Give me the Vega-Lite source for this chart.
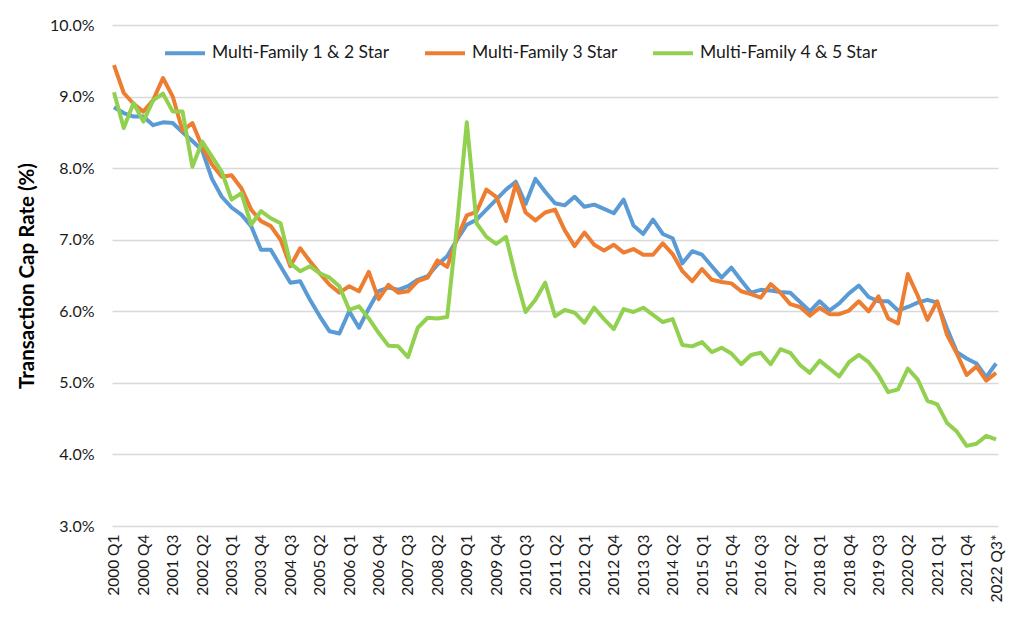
{
  "$schema": "https://vega.github.io/schema/vega-lite/v6.json",
  "background": "white",
  "autosize": {"type": "none"},
  "padding": {"left": 112, "top": 25, "right": 26, "bottom": 106},
  "width": 886,
  "height": 501,
  "data": {
    "values": [
      {"q":"2000 Q1","s":"Multi-Family 1 & 2 Star","v":8.85},{"q":"2000 Q2","s":"Multi-Family 1 & 2 Star","v":8.77},{"q":"2000 Q3","s":"Multi-Family 1 & 2 Star","v":8.72},{"q":"2000 Q4","s":"Multi-Family 1 & 2 Star","v":8.72},
      {"q":"2001 Q1","s":"Multi-Family 1 & 2 Star","v":8.6},{"q":"2001 Q2","s":"Multi-Family 1 & 2 Star","v":8.64},{"q":"2001 Q3","s":"Multi-Family 1 & 2 Star","v":8.63},{"q":"2001 Q4","s":"Multi-Family 1 & 2 Star","v":8.5},
      {"q":"2002 Q1","s":"Multi-Family 1 & 2 Star","v":8.38},{"q":"2002 Q2","s":"Multi-Family 1 & 2 Star","v":8.25},{"q":"2002 Q3","s":"Multi-Family 1 & 2 Star","v":7.85},{"q":"2002 Q4","s":"Multi-Family 1 & 2 Star","v":7.6},
      {"q":"2003 Q1","s":"Multi-Family 1 & 2 Star","v":7.45},{"q":"2003 Q2","s":"Multi-Family 1 & 2 Star","v":7.35},{"q":"2003 Q3","s":"Multi-Family 1 & 2 Star","v":7.19},{"q":"2003 Q4","s":"Multi-Family 1 & 2 Star","v":6.86},
      {"q":"2004 Q1","s":"Multi-Family 1 & 2 Star","v":6.86},{"q":"2004 Q2","s":"Multi-Family 1 & 2 Star","v":6.63},{"q":"2004 Q3","s":"Multi-Family 1 & 2 Star","v":6.4},{"q":"2004 Q4","s":"Multi-Family 1 & 2 Star","v":6.42},
      {"q":"2005 Q1","s":"Multi-Family 1 & 2 Star","v":6.16},{"q":"2005 Q2","s":"Multi-Family 1 & 2 Star","v":5.93},{"q":"2005 Q3","s":"Multi-Family 1 & 2 Star","v":5.72},{"q":"2005 Q4","s":"Multi-Family 1 & 2 Star","v":5.69},
      {"q":"2006 Q1","s":"Multi-Family 1 & 2 Star","v":6.0},{"q":"2006 Q2","s":"Multi-Family 1 & 2 Star","v":5.77},{"q":"2006 Q3","s":"Multi-Family 1 & 2 Star","v":6.04},{"q":"2006 Q4","s":"Multi-Family 1 & 2 Star","v":6.28},
      {"q":"2007 Q1","s":"Multi-Family 1 & 2 Star","v":6.33},{"q":"2007 Q2","s":"Multi-Family 1 & 2 Star","v":6.3},{"q":"2007 Q3","s":"Multi-Family 1 & 2 Star","v":6.35},{"q":"2007 Q4","s":"Multi-Family 1 & 2 Star","v":6.44},
      {"q":"2008 Q1","s":"Multi-Family 1 & 2 Star","v":6.49},{"q":"2008 Q2","s":"Multi-Family 1 & 2 Star","v":6.65},{"q":"2008 Q3","s":"Multi-Family 1 & 2 Star","v":6.77},{"q":"2008 Q4","s":"Multi-Family 1 & 2 Star","v":7.0},
      {"q":"2009 Q1","s":"Multi-Family 1 & 2 Star","v":7.21},{"q":"2009 Q2","s":"Multi-Family 1 & 2 Star","v":7.28},{"q":"2009 Q3","s":"Multi-Family 1 & 2 Star","v":7.42},{"q":"2009 Q4","s":"Multi-Family 1 & 2 Star","v":7.56},
      {"q":"2010 Q1","s":"Multi-Family 1 & 2 Star","v":7.7},{"q":"2010 Q2","s":"Multi-Family 1 & 2 Star","v":7.81},{"q":"2010 Q3","s":"Multi-Family 1 & 2 Star","v":7.5},{"q":"2010 Q4","s":"Multi-Family 1 & 2 Star","v":7.85},
      {"q":"2011 Q1","s":"Multi-Family 1 & 2 Star","v":7.67},{"q":"2011 Q2","s":"Multi-Family 1 & 2 Star","v":7.51},{"q":"2011 Q3","s":"Multi-Family 1 & 2 Star","v":7.48},{"q":"2011 Q4","s":"Multi-Family 1 & 2 Star","v":7.6},
      {"q":"2012 Q1","s":"Multi-Family 1 & 2 Star","v":7.46},{"q":"2012 Q2","s":"Multi-Family 1 & 2 Star","v":7.49},{"q":"2012 Q3","s":"Multi-Family 1 & 2 Star","v":7.43},{"q":"2012 Q4","s":"Multi-Family 1 & 2 Star","v":7.37},
      {"q":"2013 Q1","s":"Multi-Family 1 & 2 Star","v":7.56},{"q":"2013 Q2","s":"Multi-Family 1 & 2 Star","v":7.2},{"q":"2013 Q3","s":"Multi-Family 1 & 2 Star","v":7.08},{"q":"2013 Q4","s":"Multi-Family 1 & 2 Star","v":7.28},
      {"q":"2014 Q1","s":"Multi-Family 1 & 2 Star","v":7.08},{"q":"2014 Q2","s":"Multi-Family 1 & 2 Star","v":7.02},{"q":"2014 Q3","s":"Multi-Family 1 & 2 Star","v":6.67},{"q":"2014 Q4","s":"Multi-Family 1 & 2 Star","v":6.84},
      {"q":"2015 Q1","s":"Multi-Family 1 & 2 Star","v":6.79},{"q":"2015 Q2","s":"Multi-Family 1 & 2 Star","v":6.63},{"q":"2015 Q3","s":"Multi-Family 1 & 2 Star","v":6.47},{"q":"2015 Q4","s":"Multi-Family 1 & 2 Star","v":6.61},
      {"q":"2016 Q1","s":"Multi-Family 1 & 2 Star","v":6.43},{"q":"2016 Q2","s":"Multi-Family 1 & 2 Star","v":6.26},{"q":"2016 Q3","s":"Multi-Family 1 & 2 Star","v":6.3},{"q":"2016 Q4","s":"Multi-Family 1 & 2 Star","v":6.29},
      {"q":"2017 Q1","s":"Multi-Family 1 & 2 Star","v":6.27},{"q":"2017 Q2","s":"Multi-Family 1 & 2 Star","v":6.26},{"q":"2017 Q3","s":"Multi-Family 1 & 2 Star","v":6.13},{"q":"2017 Q4","s":"Multi-Family 1 & 2 Star","v":6.0},
      {"q":"2018 Q1","s":"Multi-Family 1 & 2 Star","v":6.14},{"q":"2018 Q2","s":"Multi-Family 1 & 2 Star","v":6.01},{"q":"2018 Q3","s":"Multi-Family 1 & 2 Star","v":6.11},{"q":"2018 Q4","s":"Multi-Family 1 & 2 Star","v":6.25},
      {"q":"2019 Q1","s":"Multi-Family 1 & 2 Star","v":6.36},{"q":"2019 Q2","s":"Multi-Family 1 & 2 Star","v":6.2},{"q":"2019 Q3","s":"Multi-Family 1 & 2 Star","v":6.14},{"q":"2019 Q4","s":"Multi-Family 1 & 2 Star","v":6.14},
      {"q":"2020 Q1","s":"Multi-Family 1 & 2 Star","v":6.01},{"q":"2020 Q2","s":"Multi-Family 1 & 2 Star","v":6.06},{"q":"2020 Q3","s":"Multi-Family 1 & 2 Star","v":6.12},{"q":"2020 Q4","s":"Multi-Family 1 & 2 Star","v":6.16},
      {"q":"2021 Q1","s":"Multi-Family 1 & 2 Star","v":6.12},{"q":"2021 Q2","s":"Multi-Family 1 & 2 Star","v":5.76},{"q":"2021 Q3","s":"Multi-Family 1 & 2 Star","v":5.43},{"q":"2021 Q4","s":"Multi-Family 1 & 2 Star","v":5.34},
      {"q":"2022 Q1","s":"Multi-Family 1 & 2 Star","v":5.27},{"q":"2022 Q2","s":"Multi-Family 1 & 2 Star","v":5.08},{"q":"2022 Q3*","s":"Multi-Family 1 & 2 Star","v":5.27},

      {"q":"2000 Q1","s":"Multi-Family 3 Star","v":9.44},{"q":"2000 Q2","s":"Multi-Family 3 Star","v":9.05},{"q":"2000 Q3","s":"Multi-Family 3 Star","v":8.9},{"q":"2000 Q4","s":"Multi-Family 3 Star","v":8.79},
      {"q":"2001 Q1","s":"Multi-Family 3 Star","v":8.95},{"q":"2001 Q2","s":"Multi-Family 3 Star","v":9.26},{"q":"2001 Q3","s":"Multi-Family 3 Star","v":9.0},{"q":"2001 Q4","s":"Multi-Family 3 Star","v":8.52},
      {"q":"2002 Q1","s":"Multi-Family 3 Star","v":8.63},{"q":"2002 Q2","s":"Multi-Family 3 Star","v":8.3},{"q":"2002 Q3","s":"Multi-Family 3 Star","v":8.05},{"q":"2002 Q4","s":"Multi-Family 3 Star","v":7.88},
      {"q":"2003 Q1","s":"Multi-Family 3 Star","v":7.9},{"q":"2003 Q2","s":"Multi-Family 3 Star","v":7.72},{"q":"2003 Q3","s":"Multi-Family 3 Star","v":7.42},{"q":"2003 Q4","s":"Multi-Family 3 Star","v":7.26},
      {"q":"2004 Q1","s":"Multi-Family 3 Star","v":7.19},{"q":"2004 Q2","s":"Multi-Family 3 Star","v":7.0},{"q":"2004 Q3","s":"Multi-Family 3 Star","v":6.63},{"q":"2004 Q4","s":"Multi-Family 3 Star","v":6.88},
      {"q":"2005 Q1","s":"Multi-Family 3 Star","v":6.7},{"q":"2005 Q2","s":"Multi-Family 3 Star","v":6.53},{"q":"2005 Q3","s":"Multi-Family 3 Star","v":6.37},{"q":"2005 Q4","s":"Multi-Family 3 Star","v":6.26},
      {"q":"2006 Q1","s":"Multi-Family 3 Star","v":6.35},{"q":"2006 Q2","s":"Multi-Family 3 Star","v":6.28},{"q":"2006 Q3","s":"Multi-Family 3 Star","v":6.55},{"q":"2006 Q4","s":"Multi-Family 3 Star","v":6.17},
      {"q":"2007 Q1","s":"Multi-Family 3 Star","v":6.37},{"q":"2007 Q2","s":"Multi-Family 3 Star","v":6.26},{"q":"2007 Q3","s":"Multi-Family 3 Star","v":6.28},{"q":"2007 Q4","s":"Multi-Family 3 Star","v":6.42},
      {"q":"2008 Q1","s":"Multi-Family 3 Star","v":6.47},{"q":"2008 Q2","s":"Multi-Family 3 Star","v":6.71},{"q":"2008 Q3","s":"Multi-Family 3 Star","v":6.62},{"q":"2008 Q4","s":"Multi-Family 3 Star","v":7.02},
      {"q":"2009 Q1","s":"Multi-Family 3 Star","v":7.34},{"q":"2009 Q2","s":"Multi-Family 3 Star","v":7.39},{"q":"2009 Q3","s":"Multi-Family 3 Star","v":7.7},{"q":"2009 Q4","s":"Multi-Family 3 Star","v":7.6},
      {"q":"2010 Q1","s":"Multi-Family 3 Star","v":7.26},{"q":"2010 Q2","s":"Multi-Family 3 Star","v":7.78},{"q":"2010 Q3","s":"Multi-Family 3 Star","v":7.38},{"q":"2010 Q4","s":"Multi-Family 3 Star","v":7.27},
      {"q":"2011 Q1","s":"Multi-Family 3 Star","v":7.38},{"q":"2011 Q2","s":"Multi-Family 3 Star","v":7.42},{"q":"2011 Q3","s":"Multi-Family 3 Star","v":7.13},{"q":"2011 Q4","s":"Multi-Family 3 Star","v":6.91},
      {"q":"2012 Q1","s":"Multi-Family 3 Star","v":7.1},{"q":"2012 Q2","s":"Multi-Family 3 Star","v":6.93},{"q":"2012 Q3","s":"Multi-Family 3 Star","v":6.85},{"q":"2012 Q4","s":"Multi-Family 3 Star","v":6.93},
      {"q":"2013 Q1","s":"Multi-Family 3 Star","v":6.82},{"q":"2013 Q2","s":"Multi-Family 3 Star","v":6.87},{"q":"2013 Q3","s":"Multi-Family 3 Star","v":6.79},{"q":"2013 Q4","s":"Multi-Family 3 Star","v":6.79},
      {"q":"2014 Q1","s":"Multi-Family 3 Star","v":6.95},{"q":"2014 Q2","s":"Multi-Family 3 Star","v":6.8},{"q":"2014 Q3","s":"Multi-Family 3 Star","v":6.56},{"q":"2014 Q4","s":"Multi-Family 3 Star","v":6.42},
      {"q":"2015 Q1","s":"Multi-Family 3 Star","v":6.59},{"q":"2015 Q2","s":"Multi-Family 3 Star","v":6.44},{"q":"2015 Q3","s":"Multi-Family 3 Star","v":6.41},{"q":"2015 Q4","s":"Multi-Family 3 Star","v":6.39},
      {"q":"2016 Q1","s":"Multi-Family 3 Star","v":6.28},{"q":"2016 Q2","s":"Multi-Family 3 Star","v":6.24},{"q":"2016 Q3","s":"Multi-Family 3 Star","v":6.19},{"q":"2016 Q4","s":"Multi-Family 3 Star","v":6.38},
      {"q":"2017 Q1","s":"Multi-Family 3 Star","v":6.26},{"q":"2017 Q2","s":"Multi-Family 3 Star","v":6.1},{"q":"2017 Q3","s":"Multi-Family 3 Star","v":6.06},{"q":"2017 Q4","s":"Multi-Family 3 Star","v":5.94},
      {"q":"2018 Q1","s":"Multi-Family 3 Star","v":6.05},{"q":"2018 Q2","s":"Multi-Family 3 Star","v":5.96},{"q":"2018 Q3","s":"Multi-Family 3 Star","v":5.96},{"q":"2018 Q4","s":"Multi-Family 3 Star","v":6.01},
      {"q":"2019 Q1","s":"Multi-Family 3 Star","v":6.14},{"q":"2019 Q2","s":"Multi-Family 3 Star","v":6.0},{"q":"2019 Q3","s":"Multi-Family 3 Star","v":6.21},{"q":"2019 Q4","s":"Multi-Family 3 Star","v":5.9},
      {"q":"2020 Q1","s":"Multi-Family 3 Star","v":5.83},{"q":"2020 Q2","s":"Multi-Family 3 Star","v":6.52},{"q":"2020 Q3","s":"Multi-Family 3 Star","v":6.22},{"q":"2020 Q4","s":"Multi-Family 3 Star","v":5.88},
      {"q":"2021 Q1","s":"Multi-Family 3 Star","v":6.14},{"q":"2021 Q2","s":"Multi-Family 3 Star","v":5.67},{"q":"2021 Q3","s":"Multi-Family 3 Star","v":5.41},{"q":"2021 Q4","s":"Multi-Family 3 Star","v":5.11},
      {"q":"2022 Q1","s":"Multi-Family 3 Star","v":5.23},{"q":"2022 Q2","s":"Multi-Family 3 Star","v":5.03},{"q":"2022 Q3*","s":"Multi-Family 3 Star","v":5.14},

      {"q":"2000 Q1","s":"Multi-Family 4 & 5 Star","v":9.06},{"q":"2000 Q2","s":"Multi-Family 4 & 5 Star","v":8.56},{"q":"2000 Q3","s":"Multi-Family 4 & 5 Star","v":8.91},{"q":"2000 Q4","s":"Multi-Family 4 & 5 Star","v":8.65},
      {"q":"2001 Q1","s":"Multi-Family 4 & 5 Star","v":8.95},{"q":"2001 Q2","s":"Multi-Family 4 & 5 Star","v":9.04},{"q":"2001 Q3","s":"Multi-Family 4 & 5 Star","v":8.79},{"q":"2001 Q4","s":"Multi-Family 4 & 5 Star","v":8.79},
      {"q":"2002 Q1","s":"Multi-Family 4 & 5 Star","v":8.02},{"q":"2002 Q2","s":"Multi-Family 4 & 5 Star","v":8.37},{"q":"2002 Q3","s":"Multi-Family 4 & 5 Star","v":8.16},{"q":"2002 Q4","s":"Multi-Family 4 & 5 Star","v":7.95},
      {"q":"2003 Q1","s":"Multi-Family 4 & 5 Star","v":7.56},{"q":"2003 Q2","s":"Multi-Family 4 & 5 Star","v":7.65},{"q":"2003 Q3","s":"Multi-Family 4 & 5 Star","v":7.21},{"q":"2003 Q4","s":"Multi-Family 4 & 5 Star","v":7.4},
      {"q":"2004 Q1","s":"Multi-Family 4 & 5 Star","v":7.3},{"q":"2004 Q2","s":"Multi-Family 4 & 5 Star","v":7.23},{"q":"2004 Q3","s":"Multi-Family 4 & 5 Star","v":6.67},{"q":"2004 Q4","s":"Multi-Family 4 & 5 Star","v":6.56},
      {"q":"2005 Q1","s":"Multi-Family 4 & 5 Star","v":6.63},{"q":"2005 Q2","s":"Multi-Family 4 & 5 Star","v":6.53},{"q":"2005 Q3","s":"Multi-Family 4 & 5 Star","v":6.47},{"q":"2005 Q4","s":"Multi-Family 4 & 5 Star","v":6.35},
      {"q":"2006 Q1","s":"Multi-Family 4 & 5 Star","v":6.02},{"q":"2006 Q2","s":"Multi-Family 4 & 5 Star","v":6.07},{"q":"2006 Q3","s":"Multi-Family 4 & 5 Star","v":5.9},{"q":"2006 Q4","s":"Multi-Family 4 & 5 Star","v":5.7},
      {"q":"2007 Q1","s":"Multi-Family 4 & 5 Star","v":5.52},{"q":"2007 Q2","s":"Multi-Family 4 & 5 Star","v":5.51},{"q":"2007 Q3","s":"Multi-Family 4 & 5 Star","v":5.36},{"q":"2007 Q4","s":"Multi-Family 4 & 5 Star","v":5.77},
      {"q":"2008 Q1","s":"Multi-Family 4 & 5 Star","v":5.91},{"q":"2008 Q2","s":"Multi-Family 4 & 5 Star","v":5.9},{"q":"2008 Q3","s":"Multi-Family 4 & 5 Star","v":5.92},{"q":"2008 Q4","s":"Multi-Family 4 & 5 Star","v":7.2},
      {"q":"2009 Q1","s":"Multi-Family 4 & 5 Star","v":8.64},{"q":"2009 Q2","s":"Multi-Family 4 & 5 Star","v":7.23},{"q":"2009 Q3","s":"Multi-Family 4 & 5 Star","v":7.04},{"q":"2009 Q4","s":"Multi-Family 4 & 5 Star","v":6.94},
      {"q":"2010 Q1","s":"Multi-Family 4 & 5 Star","v":7.04},{"q":"2010 Q2","s":"Multi-Family 4 & 5 Star","v":6.48},{"q":"2010 Q3","s":"Multi-Family 4 & 5 Star","v":5.99},{"q":"2010 Q4","s":"Multi-Family 4 & 5 Star","v":6.16},
      {"q":"2011 Q1","s":"Multi-Family 4 & 5 Star","v":6.4},{"q":"2011 Q2","s":"Multi-Family 4 & 5 Star","v":5.93},{"q":"2011 Q3","s":"Multi-Family 4 & 5 Star","v":6.02},{"q":"2011 Q4","s":"Multi-Family 4 & 5 Star","v":5.98},
      {"q":"2012 Q1","s":"Multi-Family 4 & 5 Star","v":5.84},{"q":"2012 Q2","s":"Multi-Family 4 & 5 Star","v":6.05},{"q":"2012 Q3","s":"Multi-Family 4 & 5 Star","v":5.89},{"q":"2012 Q4","s":"Multi-Family 4 & 5 Star","v":5.75},
      {"q":"2013 Q1","s":"Multi-Family 4 & 5 Star","v":6.03},{"q":"2013 Q2","s":"Multi-Family 4 & 5 Star","v":5.99},{"q":"2013 Q3","s":"Multi-Family 4 & 5 Star","v":6.05},{"q":"2013 Q4","s":"Multi-Family 4 & 5 Star","v":5.95},
      {"q":"2014 Q1","s":"Multi-Family 4 & 5 Star","v":5.85},{"q":"2014 Q2","s":"Multi-Family 4 & 5 Star","v":5.89},{"q":"2014 Q3","s":"Multi-Family 4 & 5 Star","v":5.53},{"q":"2014 Q4","s":"Multi-Family 4 & 5 Star","v":5.51},
      {"q":"2015 Q1","s":"Multi-Family 4 & 5 Star","v":5.57},{"q":"2015 Q2","s":"Multi-Family 4 & 5 Star","v":5.43},{"q":"2015 Q3","s":"Multi-Family 4 & 5 Star","v":5.49},{"q":"2015 Q4","s":"Multi-Family 4 & 5 Star","v":5.41},
      {"q":"2016 Q1","s":"Multi-Family 4 & 5 Star","v":5.26},{"q":"2016 Q2","s":"Multi-Family 4 & 5 Star","v":5.39},{"q":"2016 Q3","s":"Multi-Family 4 & 5 Star","v":5.42},{"q":"2016 Q4","s":"Multi-Family 4 & 5 Star","v":5.26},
      {"q":"2017 Q1","s":"Multi-Family 4 & 5 Star","v":5.47},{"q":"2017 Q2","s":"Multi-Family 4 & 5 Star","v":5.42},{"q":"2017 Q3","s":"Multi-Family 4 & 5 Star","v":5.25},{"q":"2017 Q4","s":"Multi-Family 4 & 5 Star","v":5.14},
      {"q":"2018 Q1","s":"Multi-Family 4 & 5 Star","v":5.31},{"q":"2018 Q2","s":"Multi-Family 4 & 5 Star","v":5.2},{"q":"2018 Q3","s":"Multi-Family 4 & 5 Star","v":5.09},{"q":"2018 Q4","s":"Multi-Family 4 & 5 Star","v":5.29},
      {"q":"2019 Q1","s":"Multi-Family 4 & 5 Star","v":5.39},{"q":"2019 Q2","s":"Multi-Family 4 & 5 Star","v":5.29},{"q":"2019 Q3","s":"Multi-Family 4 & 5 Star","v":5.11},{"q":"2019 Q4","s":"Multi-Family 4 & 5 Star","v":4.87},
      {"q":"2020 Q1","s":"Multi-Family 4 & 5 Star","v":4.91},{"q":"2020 Q2","s":"Multi-Family 4 & 5 Star","v":5.2},{"q":"2020 Q3","s":"Multi-Family 4 & 5 Star","v":5.05},{"q":"2020 Q4","s":"Multi-Family 4 & 5 Star","v":4.75},
      {"q":"2021 Q1","s":"Multi-Family 4 & 5 Star","v":4.7},{"q":"2021 Q2","s":"Multi-Family 4 & 5 Star","v":4.44},{"q":"2021 Q3","s":"Multi-Family 4 & 5 Star","v":4.32},{"q":"2021 Q4","s":"Multi-Family 4 & 5 Star","v":4.12},
      {"q":"2022 Q1","s":"Multi-Family 4 & 5 Star","v":4.15},{"q":"2022 Q2","s":"Multi-Family 4 & 5 Star","v":4.26},{"q":"2022 Q3*","s":"Multi-Family 4 & 5 Star","v":4.21}
    ]
  },
  "mark": {"type": "line", "strokeWidth": 4, "strokeJoin": "round"},
  "encoding": {
    "x": {
      "field": "q",
      "type": "ordinal",
      "sort": null,
      "scale": {"type": "point", "padding": 0.2},
      "axis": {
        "title": null,
        "values": ["2000 Q1","2000 Q4","2001 Q3","2002 Q2","2003 Q1","2003 Q4","2004 Q3","2005 Q2","2006 Q1","2006 Q4","2007 Q3","2008 Q2","2009 Q1","2009 Q4","2010 Q3","2011 Q2","2012 Q1","2012 Q4","2013 Q3","2014 Q2","2015 Q1","2015 Q4","2016 Q3","2017 Q2","2018 Q1","2018 Q4","2019 Q3","2020 Q2","2021 Q1","2021 Q4","2022 Q3*"],
        "labelAngle": -90,
        "labelAlign": "right",
        "labelBaseline": "middle",
        "labelPadding": 8,
        "labelFontSize": 15.5,
        "labelColor": "#1a1a1a",
        "ticks": false,
        "domain": false,
        "grid": false,
        "labelOverlap": false
      }
    },
    "y": {
      "field": "v",
      "type": "quantitative",
      "scale": {"domain": [3, 10], "nice": false, "zero": false},
      "axis": {
        "title": "Transaction Cap Rate (%)",
        "titleFontSize": 20.5,
        "titleFontWeight": "bold",
        "titleColor": "#000000",
        "titlePadding": 12,
        "values": [3, 4, 5, 6, 7, 8, 9, 10],
        "labelExpr": "format(datum.value, '.1f') + '%'",
        "labelFontSize": 16,
        "labelColor": "#1a1a1a",
        "labelPadding": 18,
        "ticks": false,
        "domain": false,
        "grid": true,
        "gridColor": "#d9d9d9",
        "gridWidth": 1.5
      }
    },
    "color": {
      "field": "s",
      "type": "nominal",
      "scale": {
        "domain": ["Multi-Family 1 & 2 Star", "Multi-Family 3 Star", "Multi-Family 4 & 5 Star"],
        "range": ["#5b9bd5", "#ed7d31", "#92d050"]
      },
      "legend": {
        "title": null,
        "orient": "none",
        "direction": "horizontal",
        "legendX": 51,
        "legendY": 6,
        "symbolType": "stroke",
        "symbolSize": 1600,
        "symbolStrokeWidth": 4,
        "labelFontSize": 17.5,
        "labelLimit": 400,
        "labelColor": "#1a1a1a",
        "labelOffset": 5,
        "columnPadding": 27
      }
    }
  },
  "config": {
    "font": "Lato",
    "view": {"stroke": null}
  }
}
